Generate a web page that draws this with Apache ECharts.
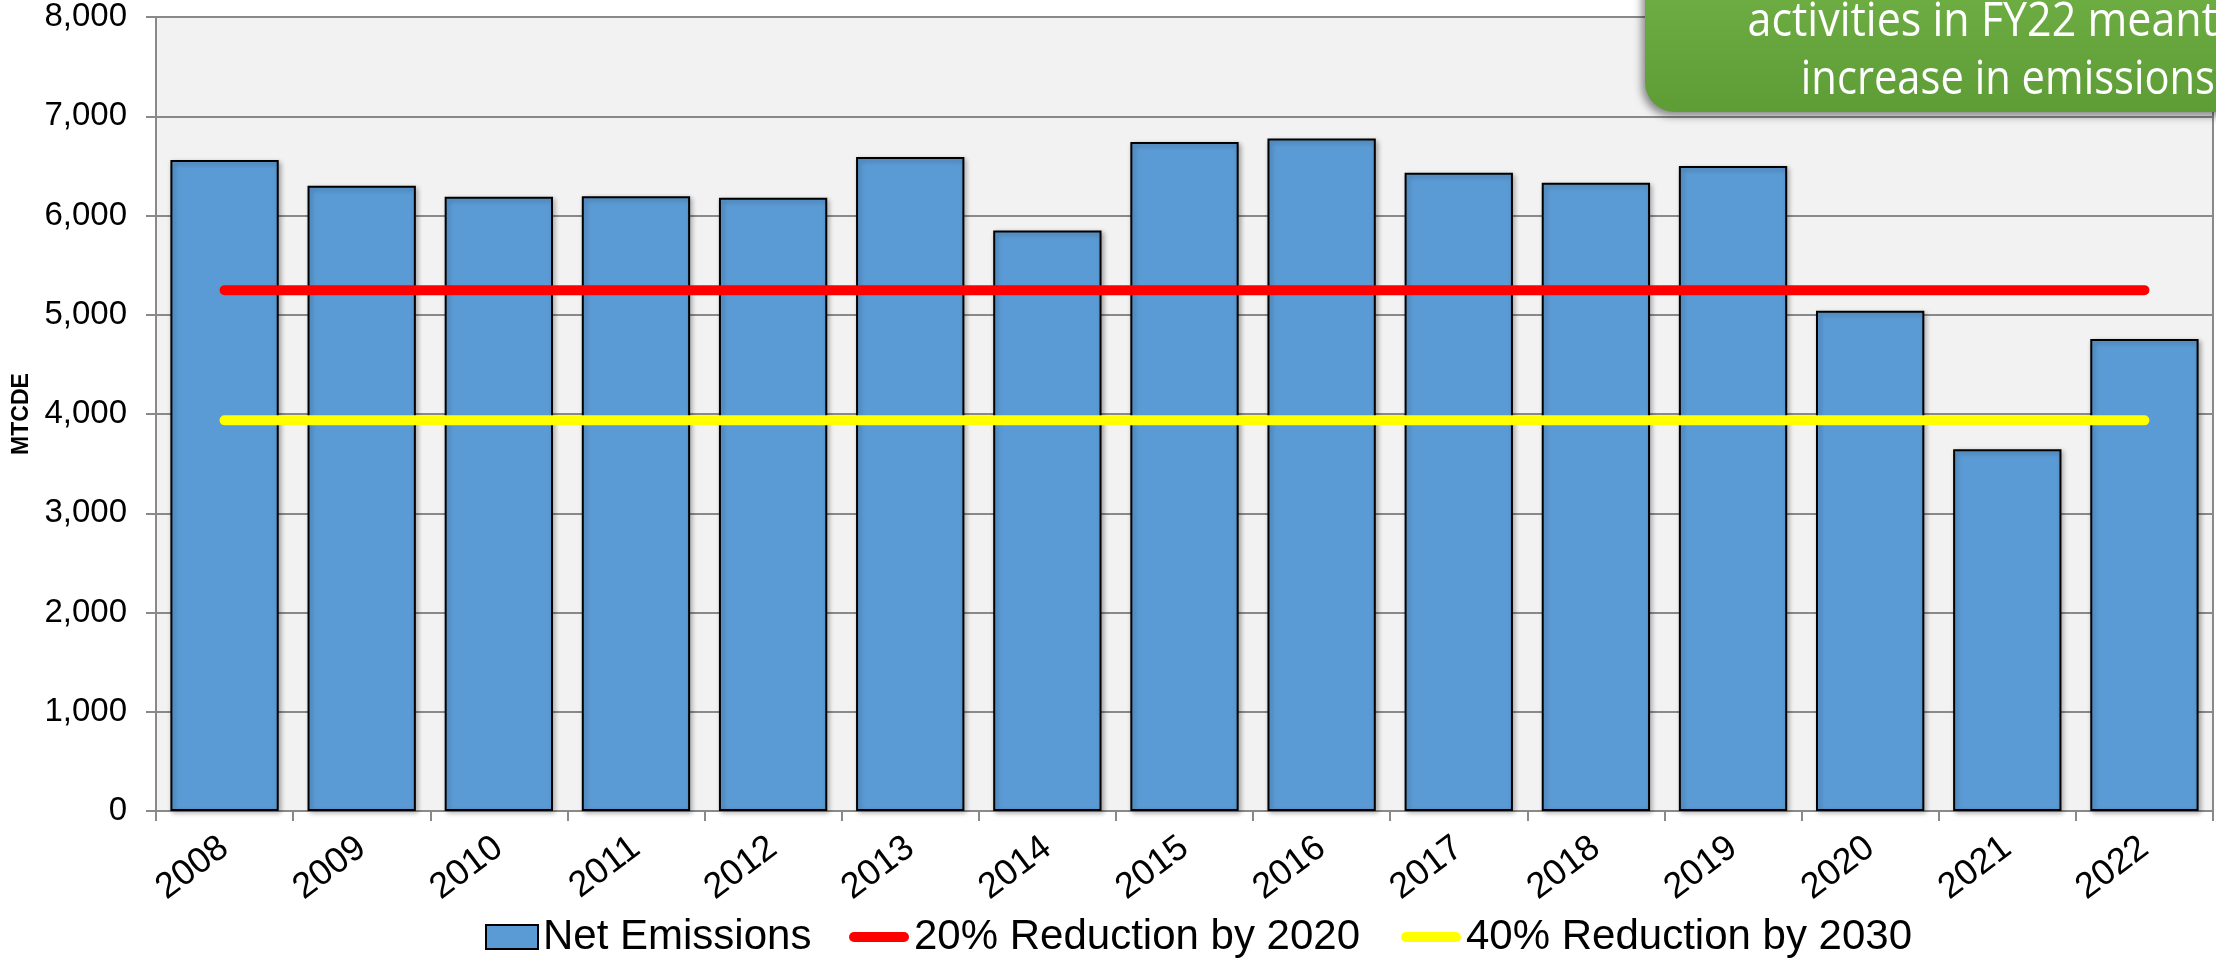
<!DOCTYPE html>
<html>
<head>
<meta charset="utf-8">
<title>Net Emissions</title>
<script src="https://cdn.jsdelivr.net/npm/echarts@6/dist/echarts.min.js"></script>
<style>
  html, body { margin: 0; padding: 0; background: #ffffff; }
  #chart { width: 2216px; height: 962px; }
</style>
</head>
<body>
<div id="chart"></div>
<script>
// Fiscal years on the category axis
const years = ['2008', '2009', '2010', '2011', '2012', '2013', '2014', '2015',
               '2016', '2017', '2018', '2019', '2020', '2021', '2022'];

// Net emissions per year (MTCDE)
const netEmissions = [6560, 6300, 6190, 6195, 6180, 6590, 5850, 6740,
                      6775, 6430, 6330, 6500, 5040, 3645, 4755];

// Reduction targets relative to the 2008 baseline
const target2020 = [5248, 5248, 5248, 5248, 5248, 5248, 5248, 5248,
                    5248, 5248, 5248, 5248, 5248, 5248, 5248];
const target2030 = [3936, 3936, 3936, 3936, 3936, 3936, 3936, 3936,
                    3936, 3936, 3936, 3936, 3936, 3936, 3936];

// Value axis range
const yMin = 0;
const yMax = 8000;
const yStep = 1000;

// Series names as shown in the legend
const seriesNames = ['Net Emissions', '20% Reduction by 2020', '40% Reduction by 2030'];

// Callout text lines
const calloutLines = ['activities in FY22 meant', 'increase in emissions'];

const FONT = '"Liberation Sans", Arial, sans-serif';
const GRID_GREY = '#898989';
const lineIcon = 'path://M5,0H55A5,5,0,0,1,55,10H5A5,5,0,0,1,5,0Z';

const chart = echarts.init(document.getElementById('chart'), null, { renderer: 'canvas' });

const legendBase = {
  orient: 'horizontal',
  top: 916,
  padding: 0,
  selectedMode: false,
  textStyle: { fontSize: 42, fontFamily: FONT, color: '#000000' }
};

chart.setOption({
  animation: false,
  backgroundColor: '#ffffff',
  grid: {
    left: 156, right: 3, top: 17, bottom: 151,
    show: true, backgroundColor: '#f2f2f2', borderWidth: 0
  },
  legend: [
    Object.assign({}, legendBase, {
      left: 485, itemWidth: 52, itemHeight: 24,
      data: [{ name: seriesNames[0], icon: 'rect' }]
    }),
    Object.assign({}, legendBase, {
      left: 849, itemWidth: 60, itemHeight: 10,
      data: [{ name: seriesNames[1], icon: lineIcon, itemStyle: { color: '#ff0000', borderWidth: 0 } }]
    }),
    Object.assign({}, legendBase, {
      left: 1401, itemWidth: 60, itemHeight: 10,
      data: [{ name: seriesNames[2], icon: lineIcon, itemStyle: { color: '#ffff00', borderWidth: 0 } }]
    })
  ],
  xAxis: {
    type: 'category',
    data: years,
    boundaryGap: true,
    axisLine: { show: true, lineStyle: { color: GRID_GREY, width: 2 } },
    axisTick: { show: true, length: 10, alignWithLabel: false, lineStyle: { color: GRID_GREY, width: 2 } },
    axisLabel: {
      rotate: 37, margin: 33, interval: 0,
      fontSize: 36, fontFamily: FONT, color: '#000000'
    },
    splitLine: { show: false }
  },
  yAxis: [
    {
      type: 'value',
      min: yMin, max: yMax, interval: yStep,
      name: 'MTCDE',
      nameLocation: 'middle',
      nameGap: 122,
      nameRotate: 90,
      nameTextStyle: { fontSize: 23, fontWeight: 'bold', fontFamily: FONT, color: '#000000' },
      axisLine: { show: true, lineStyle: { color: GRID_GREY, width: 2 } },
      axisTick: { show: true, length: 10, lineStyle: { color: GRID_GREY, width: 2 } },
      axisLabel: {
        margin: 29, fontSize: 33, fontFamily: FONT, color: '#000000',
        formatter: v => v.toLocaleString('en-US')
      },
      splitLine: { show: true, lineStyle: { color: GRID_GREY, width: 2 } }
    },
    {
      type: 'value',
      position: 'right',
      min: yMin, max: yMax, interval: yStep,
      axisLine: { show: true, lineStyle: { color: GRID_GREY, width: 2 } },
      axisTick: { show: false },
      axisLabel: { show: false },
      splitLine: { show: false }
    }
  ],
  series: [
    {
      name: seriesNames[0],
      type: 'bar',
      data: netEmissions,
      barCategoryGap: '21%',
      itemStyle: {
        color: '#5b9bd5',
        borderColor: '#000000',
        borderWidth: 2,
        shadowColor: 'rgba(0,0,0,0.30)',
        shadowBlur: 5,
        shadowOffsetX: 2,
        shadowOffsetY: 2
      },
      z: 2
    },
    {
      name: seriesNames[1],
      type: 'line',
      data: target2020,
      symbol: 'none',
      color: '#ff0000',
      lineStyle: { color: '#ff0000', width: 10, cap: 'round' },
      z: 3
    },
    {
      name: seriesNames[2],
      type: 'line',
      data: target2030,
      symbol: 'none',
      color: '#ffff00',
      lineStyle: { color: '#ffff00', width: 10, cap: 'round' },
      z: 3
    }
  ],
  graphic: [
    {
      type: 'rect',
      z: 100,
      shape: { x: 1645, y: -60, width: 640, height: 172, r: 30 },
      style: {
        fill: new echarts.graphic.LinearGradient(0, 0, 0, 1, [
          { offset: 0, color: '#74b548' },
          { offset: 1, color: '#5e9c36' }
        ]),
        shadowColor: 'rgba(0,0,0,0.45)',
        shadowBlur: 8,
        shadowOffsetX: -3,
        shadowOffsetY: 4
      }
    },
    {
      type: 'text',
      z: 101,
      x: 2217, y: 22,
      scaleY: 1.12,
      style: {
        text: calloutLines[0],
        fontSize: 43, fontFamily: '"Open Sans", sans-serif',
        fill: '#ffffff', align: 'right', verticalAlign: 'middle'
      }
    },
    {
      type: 'text',
      z: 101,
      x: 2215, y: 80,
      scaleY: 1.12,
      scaleX: 0.97,
      style: {
        text: calloutLines[1],
        fontSize: 43, fontFamily: '"Open Sans", sans-serif',
        fill: '#ffffff', align: 'right', verticalAlign: 'middle'
      }
    }
  ]
});
</script>
</body>
</html>
